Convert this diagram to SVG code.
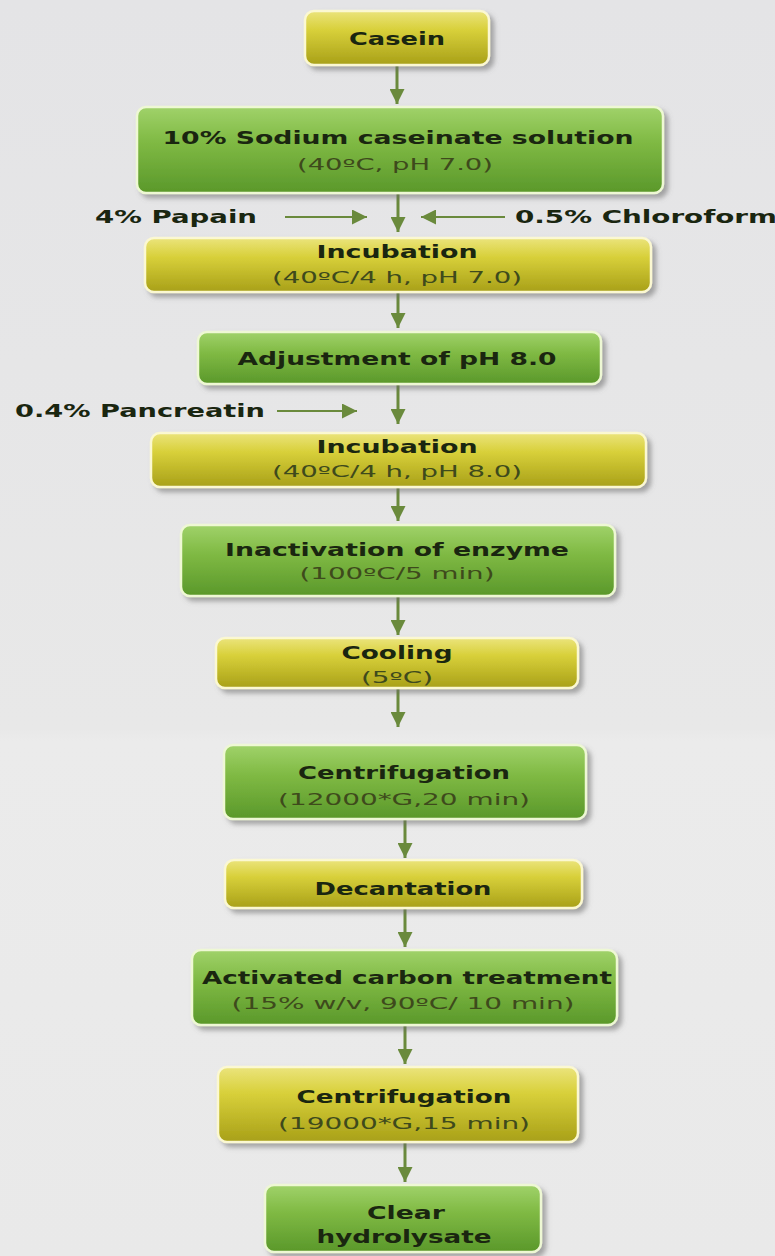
<svg xmlns="http://www.w3.org/2000/svg" width="775" height="1256" viewBox="0 0 775 1256">
<defs>
<linearGradient id="bg" x1="0" y1="0" x2="0" y2="1">
<stop offset="0" stop-color="#e4e4e6"/>
<stop offset="0.58" stop-color="#e8e8e8"/>
<stop offset="0.59" stop-color="#ebebeb"/>
<stop offset="1" stop-color="#e9e9e9"/>
</linearGradient>
<linearGradient id="gy" x1="0" y1="0" x2="0" y2="1">
<stop offset="0" stop-color="#ebe47c"/>
<stop offset="0.35" stop-color="#d8d03a"/>
<stop offset="1" stop-color="#a8a018"/>
</linearGradient>
<linearGradient id="gg" x1="0" y1="0" x2="0" y2="1">
<stop offset="0" stop-color="#a0d26a"/>
<stop offset="0.4" stop-color="#80ba44"/>
<stop offset="1" stop-color="#5a982a"/>
</linearGradient>
<filter id="sh" x="-10%" y="-20%" width="125%" height="150%">
<feDropShadow dx="4" dy="4" stdDeviation="2.5" flood-color="#6a6a6a" flood-opacity="0.55"/>
</filter>
<marker id="ah" viewBox="0 0 10 10" markerUnits="userSpaceOnUse" markerWidth="15" markerHeight="15" refX="10" refY="5" orient="auto">
<path d="M0,0 L10,5 L0,10 z" fill="#6a8a3c"/>
</marker>
<style>
.y{fill:url(#gy);stroke:#fbf8d2;stroke-width:2.5;filter:url(#sh)}
.g{fill:url(#gg);stroke:#eef8d4;stroke-width:2.5;filter:url(#sh)}
.b{font-family:"DejaVu Sans",Verdana,sans-serif;font-weight:bold;font-size:18px;fill:#1a2610}
.s{font-family:"DejaVu Sans",Verdana,sans-serif;font-size:16px;fill:#3e4a1c}
.c{stroke:#6a8a3c;stroke-width:3;fill:none;marker-end:url(#ah)}
.t{stroke:#6a8a3c;stroke-width:2;fill:none;marker-end:url(#ah)}
</style>
</defs>
<rect x="0" y="0" width="775" height="1256" fill="url(#bg)"/>

<g id="connectors">
<line class="c" x1="397" y1="66" x2="397" y2="104"/>
<line class="c" x1="398" y1="194" x2="398" y2="232"/>
<line class="t" x1="285" y1="217" x2="367" y2="217"/>
<line class="t" x1="505" y1="217" x2="421" y2="217"/>
<line class="c" x1="398" y1="293" x2="398" y2="328"/>
<line class="c" x1="398" y1="385" x2="398" y2="424"/>
<line class="t" x1="277" y1="411" x2="357" y2="411"/>
<line class="c" x1="398" y1="488" x2="398" y2="521"/>
<line class="c" x1="398" y1="597" x2="398" y2="635"/>
<line class="c" x1="398" y1="689" x2="398" y2="727"/>
<line class="c" x1="405" y1="820" x2="405" y2="858"/>
<line class="c" x1="405" y1="909" x2="405" y2="947"/>
<line class="c" x1="405" y1="1026" x2="405" y2="1064"/>
<line class="c" x1="405" y1="1143" x2="405" y2="1182"/>
</g>

<g id="label-papain"><text class="b" x="95" y="223" textLength="162" lengthAdjust="spacingAndGlyphs">4% Papain</text></g>
<g id="label-chloroform"><text class="b" x="515" y="223" textLength="262" lengthAdjust="spacingAndGlyphs">0.5% Chloroform</text></g>
<g id="label-pancreatin"><text class="b" x="15" y="417" textLength="250" lengthAdjust="spacingAndGlyphs">0.4% Pancreatin</text></g>

<g id="n1">
<rect class="y" x="305" y="11" width="184" height="54" rx="9"/>
<text class="b" x="397" y="45" text-anchor="middle" textLength="96" lengthAdjust="spacingAndGlyphs">Casein</text>
</g>
<g id="n2">
<rect class="g" x="137" y="107" width="526" height="86" rx="9"/>
<text class="b" x="398" y="144" text-anchor="middle" textLength="471" lengthAdjust="spacingAndGlyphs">10% Sodium caseinate solution</text>
<text class="s" x="395" y="170" text-anchor="middle" textLength="196" lengthAdjust="spacingAndGlyphs">(40ºC, pH 7.0)</text>
</g>
<g id="n3">
<rect class="y" x="145" y="238" width="506" height="54" rx="9"/>
<text class="b" x="397" y="258" text-anchor="middle" textLength="161" lengthAdjust="spacingAndGlyphs">Incubation</text>
<text class="s" x="397" y="283" text-anchor="middle" textLength="250" lengthAdjust="spacingAndGlyphs">(40ºC/4 h, pH 7.0)</text>
</g>
<g id="n4">
<rect class="g" x="198" y="332" width="403" height="52" rx="9"/>
<text class="b" x="397" y="365" text-anchor="middle" textLength="319" lengthAdjust="spacingAndGlyphs">Adjustment of pH 8.0</text>
</g>
<g id="n5">
<rect class="y" x="151" y="433" width="495" height="54" rx="9"/>
<text class="b" x="397" y="453" text-anchor="middle" textLength="161" lengthAdjust="spacingAndGlyphs">Incubation</text>
<text class="s" x="397" y="477" text-anchor="middle" textLength="250" lengthAdjust="spacingAndGlyphs">(40ºC/4 h, pH 8.0)</text>
</g>
<g id="n6">
<rect class="g" x="181" y="525" width="434" height="71" rx="9"/>
<text class="b" x="397" y="556" text-anchor="middle" textLength="344" lengthAdjust="spacingAndGlyphs">Inactivation of enzyme</text>
<text class="s" x="397" y="579" text-anchor="middle" textLength="195" lengthAdjust="spacingAndGlyphs">(100ºC/5 min)</text>
</g>
<g id="n7">
<rect class="y" x="216" y="638" width="362" height="50" rx="9"/>
<text class="b" x="397" y="659" text-anchor="middle" textLength="111" lengthAdjust="spacingAndGlyphs">Cooling</text>
<text class="s" x="397" y="683" text-anchor="middle" textLength="72" lengthAdjust="spacingAndGlyphs">(5ºC)</text>
</g>
<g id="n8">
<rect class="g" x="224" y="745" width="362" height="74" rx="9"/>
<text class="b" x="404" y="779" text-anchor="middle" textLength="212" lengthAdjust="spacingAndGlyphs">Centrifugation</text>
<text class="s" x="404" y="805" text-anchor="middle" textLength="252" lengthAdjust="spacingAndGlyphs">(12000*G,20 min)</text>
</g>
<g id="n9">
<rect class="y" x="225" y="860" width="357" height="48" rx="9"/>
<text class="b" x="403" y="895" text-anchor="middle" textLength="177" lengthAdjust="spacingAndGlyphs">Decantation</text>
</g>
<g id="n10">
<rect class="g" x="192" y="950" width="425" height="75" rx="9"/>
<text class="b" x="407" y="984" text-anchor="middle" textLength="410" lengthAdjust="spacingAndGlyphs">Activated carbon treatment</text>
<text class="s" x="403" y="1009" text-anchor="middle" textLength="343" lengthAdjust="spacingAndGlyphs">(15% w/v, 90ºC/ 10 min)</text>
</g>
<g id="n11">
<rect class="y" x="218" y="1067" width="360" height="75" rx="9"/>
<text class="b" x="404" y="1103" text-anchor="middle" textLength="215" lengthAdjust="spacingAndGlyphs">Centrifugation</text>
<text class="s" x="404" y="1129" text-anchor="middle" textLength="252" lengthAdjust="spacingAndGlyphs">(19000*G,15 min)</text>
</g>
<g id="n12">
<rect class="g" x="265" y="1185" width="276" height="67" rx="9"/>
<text class="b" x="406" y="1219" text-anchor="middle" textLength="78" lengthAdjust="spacingAndGlyphs">Clear</text>
<text class="b" x="404" y="1243" text-anchor="middle" textLength="175" lengthAdjust="spacingAndGlyphs">hydrolysate</text>
</g>
</svg>
